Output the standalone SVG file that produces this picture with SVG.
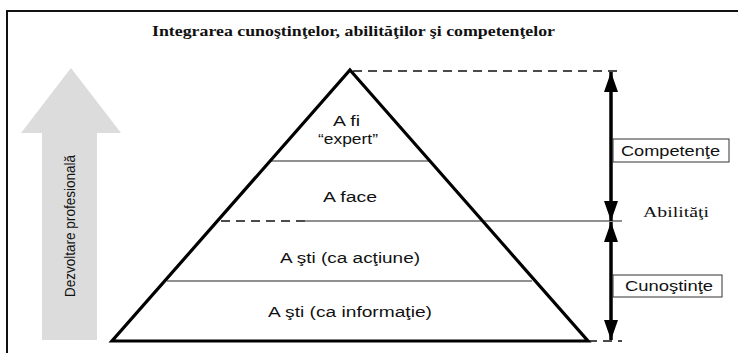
<svg xmlns="http://www.w3.org/2000/svg" width="738" height="353" viewBox="0 0 738 353">
<style>
.sans{font-family:"Liberation Sans",Arial,sans-serif;fill:#111}
.serif{font-family:"Liberation Serif","Times New Roman",serif;fill:#111}
.thin{stroke:#222;stroke-width:1.2;fill:none}
.thick{stroke:#000;stroke-width:3.2;fill:none}
.box{fill:#fff;stroke:#333;stroke-width:1}
</style>
<defs>
<marker id="ah" viewBox="0 0 20 14" refX="20" refY="7" markerWidth="20" markerHeight="14" markerUnits="userSpaceOnUse" orient="auto-start-reverse">
<path d="M0,0 L20,7 L0,14 Z" fill="#000"/>
</marker>
</defs>
<rect width="738" height="353" fill="#fff"/>
<g id="frame">
<line x1="7" y1="11" x2="738" y2="11" stroke="#111" stroke-width="2"/>
<line x1="7" y1="10" x2="7" y2="353" stroke="#111" stroke-width="2"/>
</g>
<g id="title">
<text class="serif" x="152" y="36" font-size="14.5" font-weight="bold" textLength="403" lengthAdjust="spacingAndGlyphs">Integrarea cunoştinţelor, abilităţilor şi competenţelor</text>
</g>
<g id="dev-arrow">
<polygon points="71,68 121,133 97,133 97,340 42,340 42,133 21,133" fill="#dcdcdc"/>
<text class="sans" transform="translate(75,226) rotate(-90)" text-anchor="middle" font-size="15" textLength="142" lengthAdjust="spacingAndGlyphs">Dezvoltare profesională</text>
</g>
<g id="connectors">
<line x1="353" y1="71" x2="618" y2="71" stroke="#111" stroke-width="1.3" stroke-dasharray="9,6"/>
<line x1="221" y1="221" x2="305" y2="221" stroke="#111" stroke-width="1.3" stroke-dasharray="9,6"/>
<line x1="305" y1="221" x2="622" y2="221" class="thin"/>
<line x1="588" y1="341" x2="622" y2="341" stroke="#111" stroke-width="1.3" stroke-dasharray="9,6"/>
<line x1="611" y1="72" x2="611" y2="221" stroke="#000" stroke-width="3.5" marker-start="url(#ah)" marker-end="url(#ah)"/>
<line x1="611" y1="222" x2="611" y2="340" stroke="#000" stroke-width="3.5" marker-start="url(#ah)" marker-end="url(#ah)"/>
</g>
<g id="pyramid">
<line x1="271" y1="161" x2="430" y2="161" class="thin"/>
<line x1="167" y1="281" x2="532" y2="281" class="thin"/>
<polygon points="350,70 588,341 112,341" class="thick" stroke-linejoin="miter"/>
</g>
<g id="level-expert">
<text class="sans" x="346.5" y="126" text-anchor="middle" font-size="14" textLength="27" lengthAdjust="spacingAndGlyphs">A fi</text>
<text class="sans" x="348" y="144" text-anchor="middle" font-size="15" textLength="60" lengthAdjust="spacingAndGlyphs">“expert”</text>
</g>
<g id="level-face">
<text class="sans" x="350" y="202" text-anchor="middle" font-size="14" textLength="54" lengthAdjust="spacingAndGlyphs">A face</text>
</g>
<g id="level-actiune">
<text class="sans" x="350" y="263" text-anchor="middle" font-size="14" textLength="140" lengthAdjust="spacingAndGlyphs">A şti (ca acţiune)</text>
</g>
<g id="level-informatie">
<text class="sans" x="350" y="317" text-anchor="middle" font-size="14" textLength="164" lengthAdjust="spacingAndGlyphs">A şti (ca informaţie)</text>
</g>
<g id="label-competente">
<rect class="box" x="613" y="139" width="116" height="23"/>
<text class="sans" x="670.5" y="156" text-anchor="middle" font-size="14" textLength="99" lengthAdjust="spacingAndGlyphs">Competenţe</text>
</g>
<g id="label-abilitati">
<text class="serif" x="676" y="217" text-anchor="middle" font-size="14" textLength="66" lengthAdjust="spacingAndGlyphs">Abilităţi</text>
</g>
<g id="label-cunostinte">
<rect class="box" x="613" y="275" width="109" height="22"/>
<text class="sans" x="669" y="291" text-anchor="middle" font-size="14" textLength="88" lengthAdjust="spacingAndGlyphs">Cunoştinţe</text>
</g>
</svg>
